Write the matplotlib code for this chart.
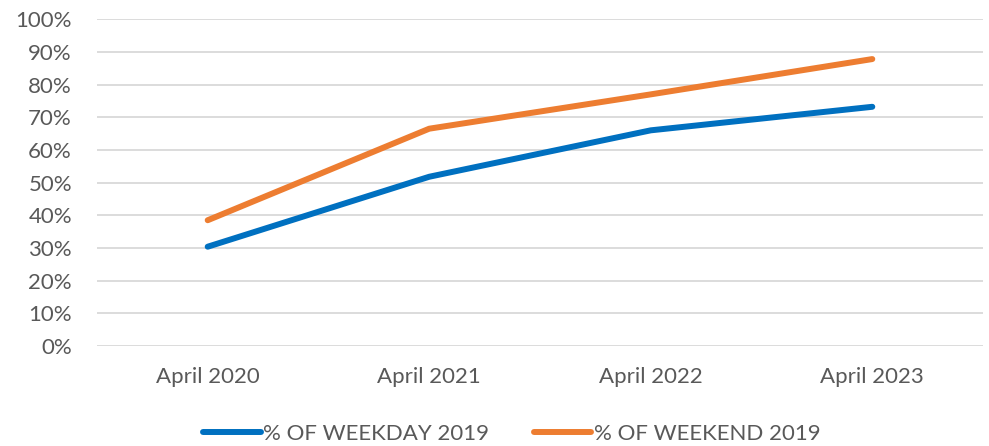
import matplotlib.pyplot as plt
from matplotlib.ticker import PercentFormatter

# data
categories = ['April 2020', 'April 2021', 'April 2022', 'April 2023']
weekday = [30.4, 51.8, 66.0, 73.2]
weekend = [38.5, 66.5, 77.0, 87.8]

plt.rcParams['font.family'] = ['Lato', 'DejaVu Sans']
text_color = '#595959'

fig = plt.figure(figsize=(9.89, 4.46), dpi=100)
ax = fig.add_axes([0.098, 0.224, 0.896, 0.733])

x = range(len(categories))
ax.plot(x, weekday, color='#0070C0', lw=4.3, solid_capstyle='round',
        solid_joinstyle='round', label='% OF WEEKDAY 2019')
ax.plot(x, weekend, color='#ED7D31', lw=4.3, solid_capstyle='round',
        solid_joinstyle='round', label='% OF WEEKEND 2019')

ax.set_xlim(-0.5, 3.5)
ax.set_ylim(0, 100)
ax.set_yticks(range(0, 101, 10))
ax.yaxis.set_major_formatter(PercentFormatter(decimals=0))
ax.set_xticks(list(x))
ax.set_xticklabels(categories)
ax.grid(axis='y', color='#d9d9d9', lw=1.3)
ax.set_axisbelow(True)
for s in ax.spines.values():
    s.set_visible(False)
ax.tick_params(length=0, labelsize=16, labelcolor=text_color)
ax.tick_params(axis='x', pad=15)
ax.tick_params(axis='y', pad=18)

leg = ax.legend(loc='lower center', bbox_to_anchor=(0.468, -0.36), ncol=2,
                frameon=False, fontsize=16, handlelength=2.6,
                handletextpad=0.1, columnspacing=2.0)
for t in leg.get_texts():
    t.set_color(text_color)

fig.savefig('out.png', dpi=100)
